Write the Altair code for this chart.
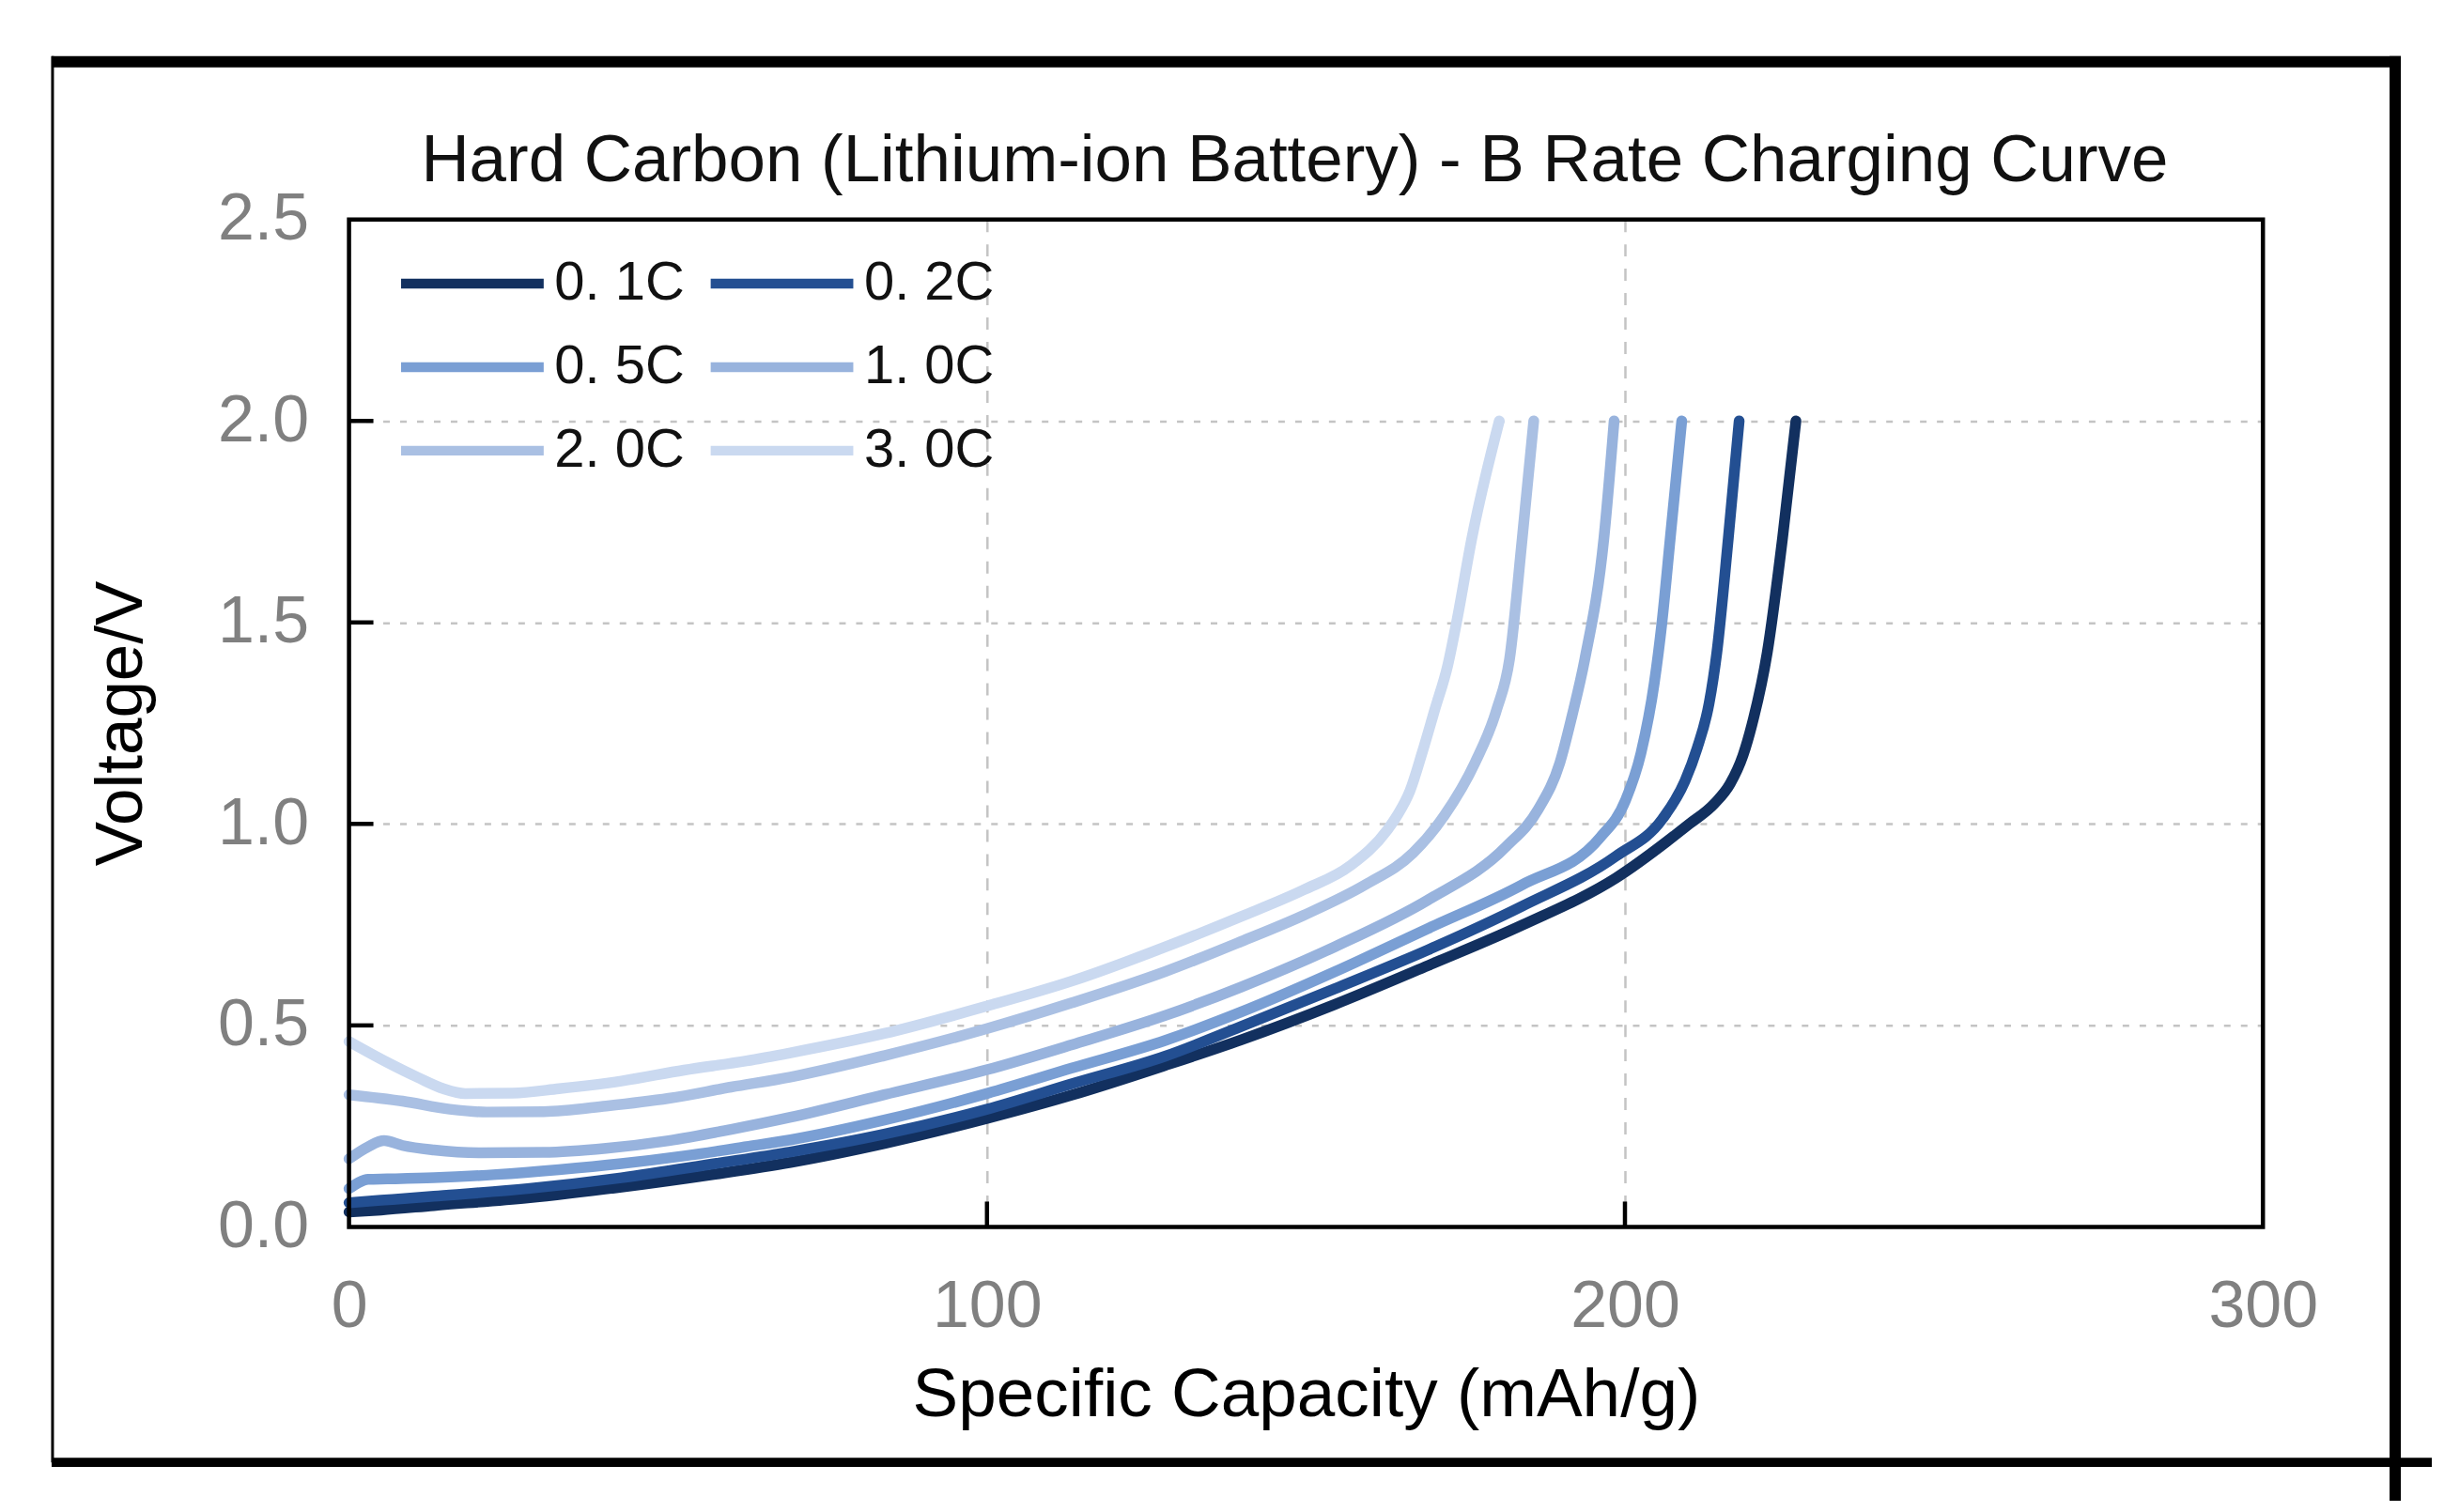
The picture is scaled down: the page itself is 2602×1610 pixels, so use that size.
import altair as alt
import pandas as pd

# ---------------- data ----------------
rates = ["0.1C", "0.2C", "0.5C", "1.0C", "2.0C", "3.0C"]
colors = ["#12305f", "#234f92", "#7a9fd4", "#98b3dd", "#aac0e3", "#cad9f0"]

cap_01 = [0, 5, 13.3, 28, 42.7, 57.4, 69.2, 83.9, 100, 113.3, 128, 139.8, 154.5, 169.2, 183.9, 198.6, 210.1, 214, 216.5, 218.5, 219.9, 222.3, 224.7, 226.8]
v_01 = [0.037, 0.042, 0.053, 0.072, 0.099, 0.131, 0.160, 0.207, 0.269, 0.327, 0.401, 0.464, 0.552, 0.649, 0.749, 0.866, 1.000, 1.05, 1.10, 1.17, 1.246, 1.425, 1.709, 2.0]

cap_02 = [0, 5, 13.3, 28, 42.7, 57.4, 69.2, 83.9, 100, 113.3, 128, 139.8, 154.5, 169.2, 183.9, 198.6, 205.9, 209.4, 211.3, 213.2, 214.4, 216.2, 217.9]
v_02 = [0.060, 0.066, 0.076, 0.095, 0.122, 0.157, 0.186, 0.230, 0.292, 0.355, 0.424, 0.497, 0.591, 0.688, 0.796, 0.920, 1.013, 1.106, 1.187, 1.30, 1.425, 1.709, 2.0]

cap_05 = [0, 1.5, 3.0, 6, 13.3, 23.1, 32.9, 42.7, 52.5, 62.3, 69.2, 83.9, 100, 113.3, 128, 139.8, 154.5, 169.2, 183.9, 196.1, 200.1, 202.5, 204.6, 205.8, 207.1, 208.9]
v_05 = [0.095, 0.110, 0.118, 0.119, 0.122, 0.130, 0.142, 0.157, 0.176, 0.199, 0.216, 0.265, 0.331, 0.394, 0.463, 0.533, 0.633, 0.741, 0.849, 0.966, 1.059, 1.175, 1.35, 1.5, 1.709, 2.0]

cap_10 = [0, 3.0, 5.5, 8.4, 13.3, 20.7, 30.5, 40.3, 50.1, 59.9, 69.2, 83.9, 100, 113.3, 128, 139.8, 154.5, 169.2, 181.4, 186.4, 189.8, 191.7, 193.7, 196.7, 198.3]
v_10 = [0.169, 0.199, 0.214, 0.202, 0.191, 0.184, 0.185, 0.195, 0.214, 0.242, 0.272, 0.328, 0.390, 0.452, 0.525, 0.595, 0.695, 0.812, 0.944, 1.036, 1.152, 1.268, 1.408, 1.709, 2.0]

cap_20 = [0, 8.4, 15.8, 21.6, 30.5, 40.3, 50.1, 59.9, 69.2, 83.9, 100, 113.3, 128, 139.8, 149.6, 159.4, 166.8, 171.7, 176.5, 179.9, 181.9, 183.9, 185.7]
v_20 = [0.328, 0.312, 0.292, 0.285, 0.286, 0.300, 0.319, 0.347, 0.372, 0.425, 0.492, 0.556, 0.634, 0.708, 0.773, 0.850, 0.928, 1.021, 1.152, 1.284, 1.408, 1.709, 2.0]

cap_30 = [0, 5.9, 10.9, 14.8, 18.2, 25.6, 32.9, 42.7, 52.5, 62.3, 69.2, 83.9, 100, 113.3, 128, 139.8, 149.6, 157.0, 162.8, 164.3, 166.3, 168.2, 170.2, 172.2, 173.6, 176.0, 180.3]
v_30 = [0.460, 0.409, 0.370, 0.343, 0.331, 0.332, 0.343, 0.362, 0.389, 0.412, 0.432, 0.480, 0.548, 0.610, 0.695, 0.770, 0.836, 0.897, 0.986, 1.021, 1.082, 1.176, 1.284, 1.392, 1.5, 1.709, 2.0]

x_ticks = [0, 100, 200, 300]
y_ticks = [0.0, 0.5, 1.0, 1.5, 2.0, 2.5]
x_inner_ticks = [100, 200]
y_inner_ticks = [0.5, 1.0, 1.5, 2.0]

title_text = "Hard Carbon (Lithium-ion Battery) - B Rate Charging Curve"
x_title = "Specific Capacity (mAh/g)"
y_title = "Voltage/V"

# ---------------- tables ----------------
series = {
    "0.1C": (cap_01, v_01), "0.2C": (cap_02, v_02), "0.5C": (cap_05, v_05),
    "1.0C": (cap_10, v_10), "2.0C": (cap_20, v_20), "3.0C": (cap_30, v_30),
}
rows = []
for r in rates:
    cs, vs = series[r]
    for c, v in zip(cs, vs):
        rows.append({"rate": r, "cap": c, "volt": v})
df = pd.DataFrame(rows)
df_xt = pd.DataFrame({"cap": x_inner_ticks})
df_yt = pd.DataFrame({"volt": y_inner_ticks})
df_one = pd.DataFrame({"k": [0]})

W, H = 2040, 1074
FONT = "Liberation Sans"

x_scale = alt.Scale(domain=[0, 300], nice=False, zero=False)
y_scale = alt.Scale(domain=[0, 2.5], nice=False, zero=False)

x_axis = alt.Axis(
    values=x_ticks, title=x_title, grid=True, gridDash=[13, 13], gridColor="#c4c4c4",
    gridWidth=2.5, ticks=False, tickSize=0, domain=False, labelFlush=False,
    labelFontSize=70, labelColor="#808080", labelFont=FONT, labelPadding=51,
    labelOverlap=False, titleFontSize=73, titleFont=FONT, titleFontWeight="normal",
    titleColor="#000000", titleBaseline="alphabetic", titleY=201,
)
y_axis = alt.Axis(
    values=y_ticks, format=".1f", title=y_title, grid=True, gridDash=[7, 11],
    gridColor="#c4c4c4", gridWidth=2.5, ticks=False, tickSize=0, domain=False,
    labelFlush=False, labelFontSize=70, labelColor="#808080", labelFont=FONT,
    labelPadding=43, labelOverlap=False, titleFontSize=71, titleFont=FONT,
    titleFontWeight="normal", titleColor="#000000", titleBaseline="alphabetic",
    titleX=-221,
)

x_enc = alt.X("cap:Q", scale=x_scale, axis=x_axis)
y_enc = alt.Y("volt:Q", scale=y_scale, axis=y_axis)

legend = alt.Legend(
    title=None, orient="none", legendX=50, legendY=38, columns=2, direction="horizontal",
    symbolType="stroke", symbolSize=23104, symbolStrokeWidth=10.5, clipHeight=61,
    rowPadding=28, columnPadding=22, labelFontSize=58,
    labelFont=FONT, labelColor="#111111",
    labelOffset=6, padding=0, labelExpr="replace(datum.label, '.', '. ')",
)

lines = alt.Chart(df).mark_line(strokeWidth=11.5, interpolate="monotone", strokeCap="round").encode(
    x=x_enc, y=y_enc,
    color=alt.Color("rate:N", scale=alt.Scale(domain=rates, range=colors), sort=rates, legend=legend),
)

xt = alt.Chart(df_xt).mark_rule(color="black", strokeWidth=4.5).encode(
    x=x_enc, y=alt.value(H), y2=alt.value(H - 27)
)
yt = alt.Chart(df_yt).mark_rule(color="black", strokeWidth=4.5).encode(
    y=y_enc, x=alt.value(0), x2=alt.value(26)
)

# plot-area border drawn above the grid
border = alt.Chart(df_one).mark_rect(filled=False, stroke="black", strokeWidth=4.5).encode(
    x=alt.value(0), x2=alt.value(W), y=alt.value(0), y2=alt.value(H))

# decorative outer frame (pixel offsets from the plot area)
f_top = alt.Chart(df_one).mark_rule(color="black", strokeWidth=12).encode(
    x=alt.value(-317), x2=alt.value(2187), y=alt.value(-168))
f_right = alt.Chart(df_one).mark_rule(color="black", strokeWidth=12).encode(
    x=alt.value(2181), y=alt.value(-174), y2=alt.value(1366))
f_bottom = alt.Chart(df_one).mark_rule(color="black", strokeWidth=10).encode(
    x=alt.value(-317), x2=alt.value(2220), y=alt.value(1325))
f_left = alt.Chart(df_one).mark_rule(color="black", strokeWidth=3).encode(
    x=alt.value(-316), y=alt.value(-174), y2=alt.value(1325))

chart = alt.layer(lines, xt, yt, border, f_top, f_right, f_bottom, f_left).properties(
    width=W, height=H,
    padding={"left": 41, "top": 45, "right": 0, "bottom": 0},
    title=alt.TitleParams(
        text=title_text, fontSize=71, font=FONT, fontWeight="normal", color="#111111",
        anchor="middle", frame="group", baseline="alphabetic", offset=-210, dx=-12,
    ),
).configure(background="white").configure_view(stroke=None)

chart.save("out.html", embed_options={"renderer": "svg", "actions": False})
